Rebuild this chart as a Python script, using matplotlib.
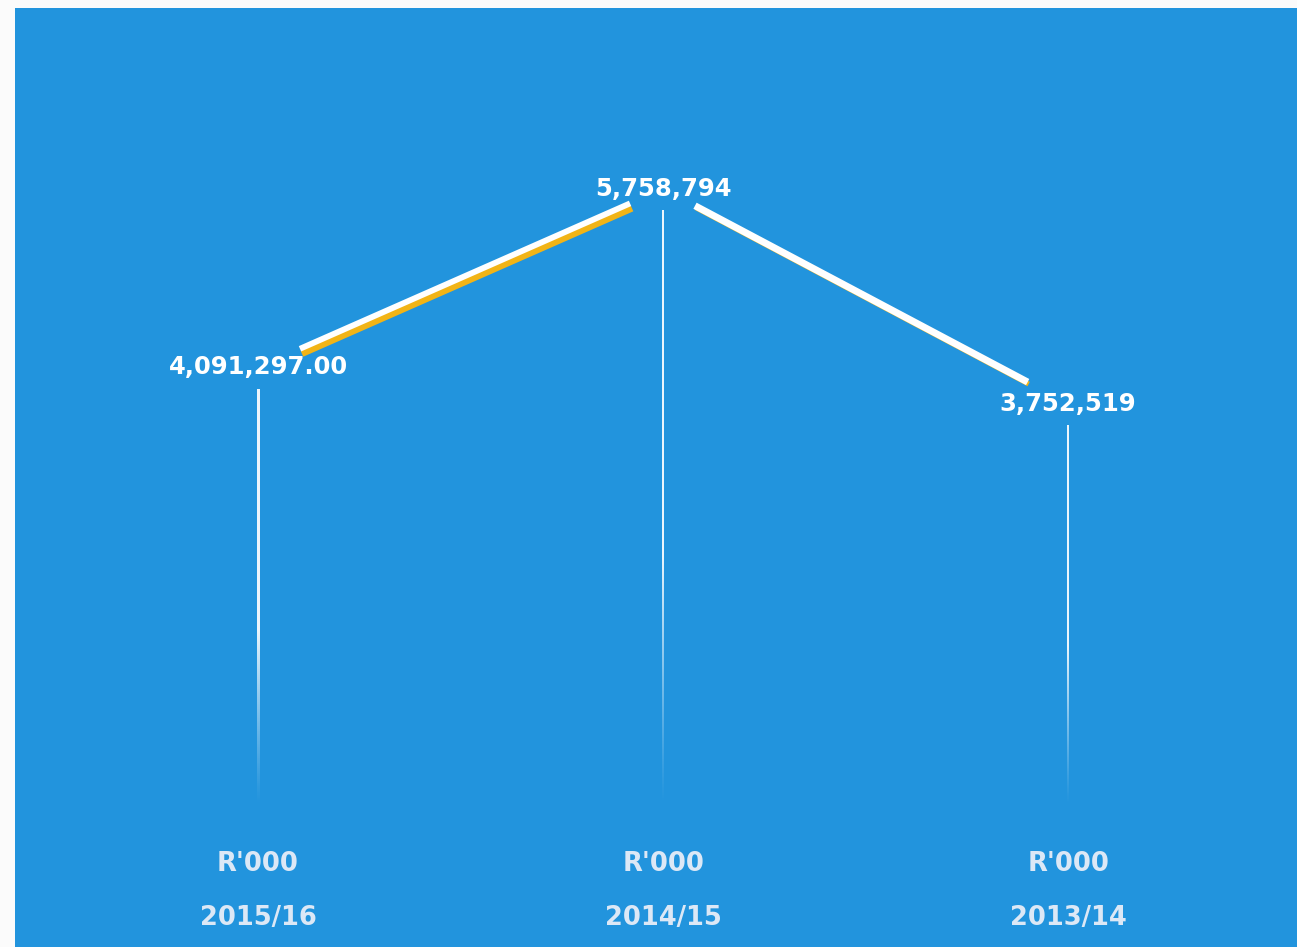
import numpy as np
import matplotlib
matplotlib.use("Agg")
import matplotlib.pyplot as plt
from matplotlib.patches import FancyArrowPatch
from matplotlib.transforms import offset_copy, blended_transform_factory

# Annual totals (R'000)
years = ["2015/16", "2014/15", "2013/14"]
values = [4091297.00, 5758794, 3752519]
decimals = [2, 0, 0]
unit_label = "R'000"

BLUE = "#2294dd"
GOLD = "#f2b416"
WHITE = "#ffffff"
CAPTION = "#dce8f6"
FONT = "DejaVu Sans"

W, H, DPI = 1297, 947, 100
fig = plt.figure(figsize=(W / DPI, H / DPI), dpi=DPI, facecolor="#fbfbfb")
ax = fig.add_axes([15 / W, 0, 1 - 15 / W, 1 - 8 / H])
ax.set_facecolor(BLUE)
XLIM = (-0.6, 2.565)
YLIM = (-1.327e6, 7.449e6)
ax.set_xlim(*XLIM)
ax.set_ylim(*YLIM)
for s in ax.spines.values():
    s.set_visible(False)
ax.set_xticks([])
ax.set_yticks([])

x = np.arange(len(values))

# Connecting ribbons between consecutive years, cut short around the labels
shrink_side, shrink_top = 33, 26
for i in range(len(values) - 1):
    a = (x[i], values[i])
    b = (x[i + 1], values[i + 1])
    rising = values[i + 1] > values[i]
    sA = shrink_side if rising else shrink_top
    sB = shrink_top if rising else shrink_side
    shadow = FancyArrowPatch(
        a, b, arrowstyle="-", shrinkA=sA, shrinkB=sB,
        lw=4.6 if rising else 3.6, color=GOLD, capstyle="butt",
        transform=offset_copy(ax.transData, fig=fig, x=2 if rising else 1,
                              y=-5 if rising else -2, units="dots"),
        zorder=3)
    ax.add_patch(shadow)
    ribbon = FancyArrowPatch(
        a, b, arrowstyle="-", shrinkA=sA, shrinkB=sB,
        lw=4.2 if rising else 5.0, color=WHITE, capstyle="butt", zorder=4)
    ax.add_patch(ribbon)

# Drop lines fading toward the baseline, drawn as thin gradient strips
fig.canvas.draw()
gap_px = 22
half_w_px = 1.0
for xi, v in zip(x, values):
    disp = ax.transData.transform((xi, v))
    inv = ax.transData.inverted()
    top = inv.transform((disp[0], disp[1] - gap_px))[1]
    x0 = inv.transform((disp[0] - half_w_px, 0))[0]
    x1 = inv.transform((disp[0] + half_w_px, 0))[0]
    n = 400
    frac = (np.arange(n)[::-1] + 0.5) / n          # row 0 = top of strip
    alpha = np.clip(frac / 0.42, 0, 1) ** 1.2 * 0.92
    rgba = np.ones((n, 1, 4))
    rgba[:, 0, 3] = alpha
    ax.imshow(rgba, extent=(x0, x1, 0, top), aspect="auto",
              interpolation="bilinear", zorder=2)

ax.set_xlim(*XLIM)
ax.set_ylim(*YLIM)

# Value labels at each point
for xi, v, d in zip(x, values, decimals):
    ax.text(xi, v, f"{v:,.{d}f}", ha="center", va="center", color=WHITE,
            fontsize=17.5, fontweight="bold", family=FONT, zorder=5)

# Unit and year captions along the bottom
trans = blended_transform_factory(ax.transData, ax.transAxes)
for xi, yr in zip(x, years):
    ax.text(xi, 0.088, unit_label, transform=trans, ha="center", va="center",
            color=CAPTION, fontsize=18.5, fontweight="bold", family=FONT)
    ax.text(xi, 0.031, yr, transform=trans, ha="center", va="center",
            color=CAPTION, fontsize=18.5, fontweight="bold", family=FONT)

fig.savefig("out.png", dpi=DPI, facecolor=fig.get_facecolor())
